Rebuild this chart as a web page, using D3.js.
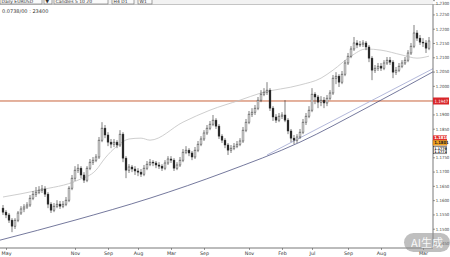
<!DOCTYPE html>
<html><head><meta charset="utf-8">
<script src="https://cdn.jsdelivr.net/npm/d3@7"></script>
<style>html,body{margin:0;padding:0;background:#fff;overflow:hidden}svg{display:block}</style>
</head><body><svg id="c" width="450" height="257"></svg>
<script>
const openP = [
1.1572,1.1558,1.1548,1.1530,1.1509,1.1530,1.1555,1.1569,1.1576,1.1583,
1.1607,1.1621,1.1628,1.1635,1.1639,1.1621,1.1586,1.1565,1.1579,1.1586,
1.1579,1.1586,1.1600,1.1642,1.1677,1.1705,1.1712,1.1688,1.1670,1.1712,
1.1733,1.1740,1.1751,1.1810,1.1852,1.1828,1.1803,1.1796,1.1803,1.1793,
1.1831,1.1747,1.1705,1.1716,1.1709,1.1702,1.1698,1.1691,1.1712,1.1726,
1.1733,1.1730,1.1723,1.1719,1.1712,1.1730,1.1744,1.1740,1.1712,1.1723,
1.1740,1.1768,1.1775,1.1765,1.1751,1.1775,1.1796,1.1814,1.1835,1.1852,
1.1866,1.1880,1.1859,1.1824,1.1810,1.1793,1.1775,1.1782,1.1789,1.1796,
1.1807,1.1845,1.1873,1.1901,1.1908,1.1922,1.1950,1.1971,1.1978,1.1985,
1.1922,1.1891,1.1880,1.1894,1.1898,1.1880,1.1842,1.1817,1.1810,1.1821,
1.1838,1.1873,1.1894,1.1915,1.1971,1.1961,1.1943,1.1950,1.1940,1.1957,
1.1975,1.2027,1.2034,1.2013,1.2041,1.2080,1.2104,1.2129,1.2150,1.2143,
1.2146,1.2150,1.2136,1.2097,1.2055,1.2062,1.2069,1.2062,1.2080,1.2090,
1.2083,1.2048,1.2055,1.2069,1.2080,1.2090,1.2115,1.2139,1.2185,1.2167,
1.2153,1.2150,1.2132];
const highP = [
1.1583,1.1565,1.1555,1.1537,1.1537,1.1562,1.1579,1.1586,1.1593,1.1618,
1.1632,1.1646,1.1649,1.1653,1.1649,1.1628,1.1593,1.1590,1.1600,1.1597,
1.1597,1.1611,1.1649,1.1688,1.1719,1.1726,1.1719,1.1698,1.1719,1.1744,
1.1751,1.1761,1.1821,1.1873,1.1863,1.1838,1.1814,1.1814,1.1810,1.1845,
1.1838,1.1754,1.1726,1.1723,1.1719,1.1712,1.1709,1.1723,1.1737,1.1744,
1.1740,1.1737,1.1733,1.1726,1.1740,1.1754,1.1754,1.1747,1.1733,1.1751,
1.1779,1.1789,1.1782,1.1772,1.1786,1.1807,1.1824,1.1845,1.1863,1.1877,
1.1898,1.1887,1.1866,1.1831,1.1817,1.1800,1.1793,1.1800,1.1807,1.1817,
1.1856,1.1884,1.1912,1.1922,1.1933,1.1961,1.1985,1.1992,1.2013,1.1992,
1.1929,1.1901,1.1905,1.1908,1.1950,1.1887,1.1849,1.1828,1.1831,1.1849,
1.1884,1.1905,1.1929,1.1992,1.1978,1.1968,1.1964,1.1961,1.1968,1.1985,
1.2038,1.2048,1.2041,1.2052,1.2090,1.2115,1.2139,1.2171,1.2160,1.2157,
1.2160,1.2157,1.2143,1.2104,1.2073,1.2080,1.2080,1.2090,1.2101,1.2101,
1.2090,1.2066,1.2080,1.2090,1.2101,1.2125,1.2150,1.2213,1.2195,1.2178,
1.2167,1.2160,1.2171];
const lowP = [
1.1548,1.1537,1.1520,1.1488,1.1499,1.1523,1.1548,1.1558,1.1569,1.1576,
1.1600,1.1611,1.1621,1.1625,1.1611,1.1572,1.1555,1.1558,1.1572,1.1569,
1.1572,1.1579,1.1593,1.1635,1.1667,1.1695,1.1677,1.1660,1.1663,1.1705,
1.1723,1.1733,1.1744,1.1803,1.1817,1.1789,1.1782,1.1786,1.1782,1.1786,
1.1733,1.1677,1.1695,1.1698,1.1688,1.1684,1.1681,1.1684,1.1705,1.1719,
1.1719,1.1712,1.1709,1.1702,1.1705,1.1723,1.1730,1.1702,1.1705,1.1716,
1.1733,1.1761,1.1754,1.1740,1.1744,1.1768,1.1789,1.1807,1.1828,1.1845,
1.1859,1.1849,1.1814,1.1800,1.1782,1.1758,1.1765,1.1775,1.1782,1.1789,
1.1800,1.1838,1.1866,1.1891,1.1898,1.1915,1.1943,1.1964,1.1968,1.1912,
1.1877,1.1870,1.1873,1.1884,1.1873,1.1831,1.1803,1.1796,1.1800,1.1814,
1.1831,1.1863,1.1887,1.1908,1.1936,1.1922,1.1929,1.1922,1.1929,1.1950,
1.1968,1.2006,1.1996,1.2006,1.2034,1.2073,1.2097,1.2122,1.2132,1.2136,
1.2136,1.2125,1.2083,1.2020,1.2045,1.2052,1.2052,1.2055,1.2073,1.2073,
1.2027,1.2038,1.2048,1.2062,1.2073,1.2083,1.2108,1.2132,1.2157,1.2143,
1.2136,1.2115,1.2125];
const closeP = [
1.1558,1.1548,1.1530,1.1509,1.1530,1.1555,1.1569,1.1576,1.1583,1.1607,
1.1621,1.1628,1.1635,1.1639,1.1621,1.1586,1.1565,1.1579,1.1586,1.1579,
1.1586,1.1600,1.1642,1.1677,1.1705,1.1712,1.1688,1.1670,1.1712,1.1733,
1.1740,1.1751,1.1810,1.1852,1.1828,1.1803,1.1796,1.1803,1.1793,1.1831,
1.1747,1.1705,1.1716,1.1709,1.1702,1.1698,1.1691,1.1712,1.1726,1.1733,
1.1730,1.1723,1.1719,1.1712,1.1730,1.1744,1.1740,1.1712,1.1723,1.1740,
1.1768,1.1775,1.1765,1.1751,1.1775,1.1796,1.1814,1.1835,1.1852,1.1866,
1.1880,1.1859,1.1824,1.1810,1.1793,1.1775,1.1782,1.1789,1.1796,1.1807,
1.1845,1.1873,1.1901,1.1908,1.1922,1.1950,1.1971,1.1978,1.1985,1.1922,
1.1891,1.1880,1.1894,1.1898,1.1880,1.1842,1.1817,1.1810,1.1821,1.1838,
1.1873,1.1894,1.1915,1.1971,1.1961,1.1943,1.1950,1.1940,1.1957,1.1975,
1.2027,1.2034,1.2013,1.2041,1.2080,1.2104,1.2129,1.2150,1.2143,1.2146,
1.2150,1.2136,1.2097,1.2055,1.2062,1.2069,1.2062,1.2080,1.2090,1.2083,
1.2048,1.2055,1.2069,1.2080,1.2090,1.2115,1.2139,1.2185,1.2167,1.2153,
1.2150,1.2132,1.2157];

const maIdx = [0,12,25,31,34,38,42,46,49,60,69,79,86,99,106,110,116,121,126,133,138,142];
const maVal = [1.1611,1.1635,1.1670,1.1705,1.1747,1.1789,1.1814,1.1817,1.1810,1.1873,1.1915,1.1950,1.1975,1.2003,1.2027,1.2055,1.2104,1.2129,1.2125,1.2108,1.2097,1.2104];

const trendAIdx = [-1,24,49,74,99,121,143.3];
const trendAVal = [1.1460,1.1530,1.1607,1.1698,1.1803,1.1922,1.2049];
const trendBIdx = [88,143.3];
const trendBVal = [1.1758,1.2060];

const levelPrice = 1.1947;
const tagValues = [1.1818,1.1801];
const tagTexts = ["1.1818","1.1801"];
const boxValues = [1.1779,1.1771];
const boxTexts = ["1.1779","1.1771"];

const yTicks = [1.1450,1.1500,1.1550,1.1600,1.1650,1.1700,1.1750,1.1800,1.1850,1.1900,1.1950,1.2000,1.2050,1.2100,1.2150,1.2200,1.2250,1.2300];
const xTickIdx = [1,24,35,45,56,67,82,93,103,115,126,140];
const xTickLabels = ["May","Nov","Sep","Aug","Mar","Sep","Nov","Feb","Jul","Sep","Aug","Mar"];

const headerText = "0.0738/00 : 23400";
const toolbarLabels = ["Daily EURUSD","▼","Candles 5 10 20","H4 D1","W1"];

const svg = d3.select("#c");
const plotRight = 433, axisY = 248;
const x = d3.scaleLinear().domain([-1, 143.33]).range([0, plotRight]);
const y = d3.scaleLinear().domain([1.1450, 1.2300]).range([243, 0.14]);
const FONT = "'DejaVu Sans', 'Liberation Sans', sans-serif";
const NARROW = "'Liberation Sans Narrow', 'DejaVu Sans Condensed', sans-serif";
const fmt = d3.format(".4f");

// toolbar strip at top
const tbX = [0, 44, 54, 112, 138];
const tbW = [42, 8, 54, 22, 14];
const tb = svg.append("g");
tb.append("rect").attr("x",0).attr("y",-2).attr("width",plotRight).attr("height",6).attr("fill","#f2f2f2");
tb.selectAll("rect.b").data(toolbarLabels).join("rect").attr("class","b")
  .attr("x",(d,i)=>tbX[i]).attr("y",-3).attr("width",(d,i)=>tbW[i]).attr("height",7)
  .attr("fill","#fafafa").attr("stroke","#666").attr("stroke-width",0.6);
tb.selectAll("text").data(toolbarLabels).join("text")
  .attr("x",(d,i)=>tbX[i]+1.5).attr("y",3).attr("font-size",4.5).attr("font-family",FONT).attr("fill","#333")
  .text(d=>d);
tb.append("line").attr("x1",0).attr("x2",plotRight+7).attr("y1",4.5).attr("y2",4.5).attr("stroke","#888").attr("stroke-width",0.5);

svg.append("text").attr("x",2).attr("y",13).attr("font-size",5).attr("font-family",FONT).attr("fill","#333").text(headerText);

// horizontal level line
svg.append("line").attr("x1",0).attr("x2",plotRight).attr("y1",y(levelPrice)).attr("y2",y(levelPrice))
  .attr("stroke","#c8643c").attr("stroke-width",1);

const lineGen = d3.line().x(d=>x(d[0])).y(d=>y(d[1])).curve(d3.curveMonotoneX);
svg.append("path").datum(d3.zip(maIdx, maVal)).attr("d", lineGen)
  .attr("fill","none").attr("stroke","#c2c2c2").attr("stroke-width",0.8);
svg.append("path").datum(d3.zip(trendBIdx, trendBVal)).attr("d", lineGen)
  .attr("fill","none").attr("stroke","#aab0d6").attr("stroke-width",0.9);
svg.append("path").datum(d3.zip(trendAIdx, trendAVal)).attr("d", lineGen)
  .attr("fill","none").attr("stroke","#3a3f72").attr("stroke-width",0.7);

// candles
const candles = d3.range(closeP.length).map(i=>({i, o:openP[i], h:highP[i], l:lowP[i], c:closeP[i]}));
const cg = svg.append("g");
cg.selectAll("line").data(candles).join("line")
  .attr("x1",d=>x(d.i)).attr("x2",d=>x(d.i)).attr("y1",d=>y(d.h)).attr("y2",d=>y(d.l))
  .attr("stroke","#2a2a2a").attr("stroke-width",0.6);
cg.selectAll("rect").data(candles).join("rect")
  .attr("x",d=>x(d.i)-0.9).attr("width",1.8)
  .attr("y",d=>y(Math.max(d.o,d.c)))
  .attr("height",d=>Math.max(0.8, Math.abs(y(d.o)-y(d.c))))
  .attr("fill",d=>d.c>=d.o?"#ffffff":"#1a1a1a")
  .attr("stroke","#2a2a2a").attr("stroke-width",0.45);

// right axis (labels hidden where the price tags sit, as in the reference)
const hidden = v => Math.abs(y(v)-y(levelPrice))<5 || Math.abs(y(v)-y(tagValues[0]))<6;
svg.append("line").attr("x1",plotRight).attr("x2",plotRight).attr("y1",4.5).attr("y2",axisY).attr("stroke","#555").attr("stroke-width",0.8);
const ya = svg.append("g").attr("transform",`translate(${plotRight},0)`)
  .call(d3.axisRight(y).tickValues(yTicks).tickSize(2).tickPadding(0.8).tickFormat(v=>hidden(v)?"":fmt(v)));
ya.select(".domain").remove();
ya.selectAll("line").attr("stroke","#555").attr("stroke-width",0.6);
ya.selectAll("text").attr("font-size",4.3).attr("font-family",NARROW).attr("fill","#444");
// keep the topmost label inside the picture
ya.selectAll(".tick").filter(d=>y(d)<2).select("text").attr("dy","1.05em");

// level tag
const lvY = y(levelPrice);
svg.append("rect").attr("x",plotRight).attr("y",lvY-3.5).attr("width",16).attr("height",7).attr("fill","#d8262a");
svg.append("text").attr("x",plotRight+1.5).attr("y",lvY+1.6).attr("font-size",4.4).attr("font-family",NARROW)
  .attr("fill","#fff").text(fmt(levelPrice));

// indicator tags
const tagFill = ["#e2312c","#f2a21e"], tagInk = ["#fff","#222"];
tagValues.forEach((v,i)=>{
  svg.append("rect").attr("x",plotRight).attr("y",y(v)-2.5).attr("width",14).attr("height",5).attr("fill",tagFill[i])
    .attr("stroke",i===1?"#b06010":"none").attr("stroke-width",0.4);
  svg.append("text").attr("x",plotRight+1.2).attr("y",y(v)+1.5).attr("font-size",4.2).attr("font-family",NARROW)
    .attr("font-weight","bold").attr("fill",tagInk[i]).text(tagTexts[i]);
});
const bTop = y(boxValues[0])-2.5, bBot = y(boxValues[1])+2.5;
svg.append("rect").attr("x",plotRight+0.5).attr("y",bTop).attr("width",13).attr("height",bBot-bTop).attr("fill","#fff").attr("stroke","#222").attr("stroke-width",0.5);
boxValues.forEach((v,i)=>{
  svg.append("text").attr("x",plotRight+1.2).attr("y",y(v)+(i===0?1.0:1.8)).attr("font-size",3.6).attr("font-family",NARROW)
    .attr("font-weight","bold").attr("fill","#111").text(boxTexts[i]);
});

// bottom axis
svg.append("line").attr("x1",0).attr("x2",plotRight).attr("y1",axisY).attr("y2",axisY).attr("stroke","#555").attr("stroke-width",0.8);
const xa = svg.append("g").attr("transform",`translate(0,${axisY})`)
  .call(d3.axisBottom(x).tickValues(xTickIdx).tickSize(2).tickPadding(1.5).tickFormat((d,i)=>xTickLabels[i]));
xa.select(".domain").remove();
xa.selectAll("line").attr("stroke","#555").attr("stroke-width",0.6);
xa.selectAll("text").attr("font-size",4.8).attr("font-family",FONT).attr("fill","#333");

// watermark
svg.append("rect").attr("x",404).attr("y",233).attr("width",46).attr("height",19).attr("rx",9.5)
  .attr("fill","#8a8a8a").attr("opacity",0.55);
svg.append("text").attr("x",427).attr("y",246.5).attr("text-anchor","middle").attr("font-size",11)
  .attr("font-family","'Noto Sans CJK SC', sans-serif").attr("fill","#ffffff").attr("opacity",0.9).text("AI生成");
</script>
</body></html>
